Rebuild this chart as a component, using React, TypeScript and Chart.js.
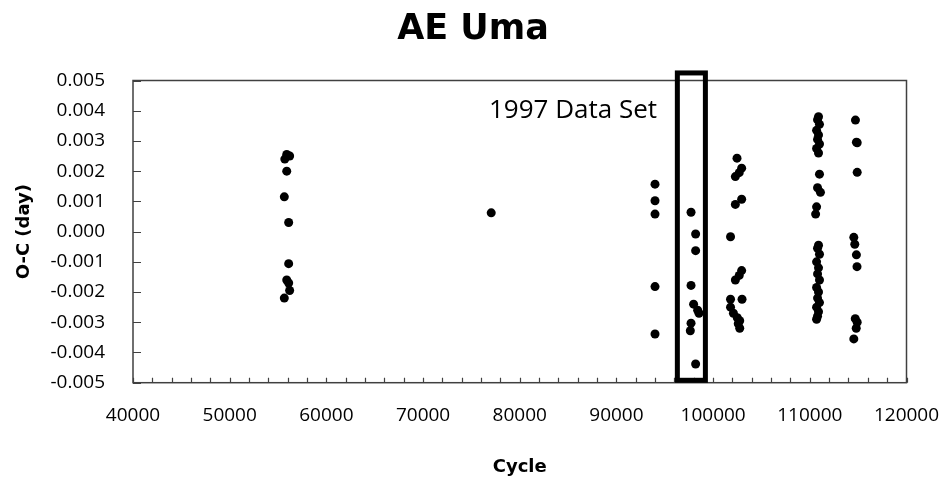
import { useEffect, useRef } from "react";
import { Chart, registerables } from "chart.js";

Chart.register(...registerables);

// Chart text
const TITLE = "AE Uma";
const X_TITLE = "Cycle";
const Y_TITLE = "O-C (day)";
const HIGHLIGHT_LABEL = "1997 Data Set";

// Axis ranges
const X_MIN = 40000;
const X_MAX = 120000;
const X_MINOR_STEP = 2000;
const X_LABEL_STEP = 10000;
const Y_MIN = -0.005;
const Y_MAX = 0.005;
const Y_STEP = 0.001;

// Times of maximum, grouped by observing season: cycle number and O-C (day)
const cyclesA = [55900, 56200, 55700, 55900, 55650, 56100, 56100, 55900, 56100, 56200, 55650];
const ocA = [0.00255, 0.0025, 0.0024, 0.002, 0.00115, 0.0003, -0.00106, -0.0016, -0.0017, -0.00195, -0.0022];

const cyclesB = [77050];
const ocB = [0.00062];

const cyclesC = [93990, 93990, 93990, 93990, 93990];
const ocC = [0.00157, 0.00102, 0.00058, -0.00182, -0.00339];

const cyclesD = [97715, 98190, 98190, 97715, 97980, 98540, 98400, 97715, 97640, 98190];
const ocD = [0.00064, -0.00008, -0.00063, -0.00178, -0.0024, -0.0027, -0.0026, -0.00303, -0.00328, -0.00438];

const cyclesE = [
  102470, 102950, 102700, 102300, 102950, 102300, 101800, 102950, 102700, 102300,
  101800, 102990, 101800, 102100, 102500, 102750, 102600, 102750,
];
const ocE = [
  0.00243, 0.0021, 0.00195, 0.00182, 0.00107, 0.0009, -0.00017, -0.00129, -0.00145, -0.0016,
  -0.00224, -0.00224, -0.0025, -0.0027, -0.00285, -0.00295, -0.00305, -0.0032,
];

const cyclesF = [
  110900, 110800, 111000, 110700, 110900, 110800, 111000, 110700, 110900,
  111000, 110800, 111100, 110700, 110600,
  110900, 110800, 111000, 110700, 110900, 110800, 111000, 110700, 110900, 110800,
  111000, 110700, 110900, 110800, 110700,
];
const ocF = [
  0.0038, 0.0037, 0.00355, 0.00335, 0.0032, 0.00305, 0.0029, 0.00275, 0.0026,
  0.0019, 0.00145, 0.0013, 0.00082, 0.00058,
  -0.00045, -0.00055, -0.00075, -0.001, -0.0012, -0.0014, -0.0016, -0.00185, -0.002, -0.0022,
  -0.00235, -0.0025, -0.00265, -0.0028, -0.0029,
];

const cyclesG = [114720, 114820, 114900, 114900, 114550, 114650, 114820, 114880, 114700, 114900, 114800, 114550];
const ocG = [0.00369, 0.00296, 0.00294, 0.00196, -0.00019, -0.00042, -0.00077, -0.00116, -0.00288, -0.003, -0.0032, -0.00355];

// Box drawn round the 1997 season, in axis units
const highlightCycles = [96300, 99200];
const highlightOC = [-0.00492, 0.00525];
const highlightLabelAt = { cycle: 94200, oc: 0.0040 };

const seasons = [
  [cyclesA, ocA],
  [cyclesB, ocB],
  [cyclesC, ocC],
  [cyclesD, ocD],
  [cyclesE, ocE],
  [cyclesF, ocF],
  [cyclesG, ocG],
];

const FRAME = "#404040";
const TICK_FONT = { family: "'Open Sans', sans-serif", size: 19 };
const TITLE_FONT = { family: "'DejaVu Sans', sans-serif", weight: "bold" as const };

const frameAndNotes = {
  id: "frameAndNotes",
  afterDraw(chart: any) {
    const { ctx, chartArea, scales } = chart;
    const { left, right, top, bottom } = chartArea;
    const xs = scales.x;
    const ys = scales.y;
    ctx.save();

    // plot frame
    ctx.strokeStyle = FRAME;
    ctx.lineWidth = 1.5;
    ctx.strokeRect(left, top, right - left, bottom - top);

    // inward tick marks
    ctx.lineWidth = 1.2;
    ctx.beginPath();
    for (const t of ys.ticks) {
      const y = Math.round(ys.getPixelForValue(t.value)) + 0.5;
      ctx.moveTo(left, y);
      ctx.lineTo(left + 8, y);
    }
    for (const t of xs.ticks) {
      const x = Math.round(xs.getPixelForValue(t.value)) + 0.5;
      ctx.moveTo(x, bottom);
      ctx.lineTo(x, bottom - 5);
    }
    ctx.stroke();

    // highlight box
    const x0 = xs.getPixelForValue(highlightCycles[0]);
    const x1 = xs.getPixelForValue(highlightCycles[1]);
    const y0 = ys.getPixelForValue(highlightOC[1]);
    const y1 = ys.getPixelForValue(highlightOC[0]);
    ctx.strokeStyle = "#000";
    ctx.lineWidth = 5;
    ctx.lineJoin = "miter";
    ctx.strokeRect(x0, y0, x1 - x0, y1 - y0);

    // its label
    ctx.fillStyle = "#000";
    ctx.font = "26px 'Open Sans', sans-serif";
    ctx.textAlign = "right";
    ctx.textBaseline = "middle";
    ctx.fillText(
      HIGHLIGHT_LABEL,
      xs.getPixelForValue(highlightLabelAt.cycle),
      ys.getPixelForValue(highlightLabelAt.oc)
    );
    ctx.restore();
  },
};

export default function App() {
  const ref = useRef<HTMLCanvasElement>(null);

  useEffect(() => {
    const canvas = ref.current;
    if (!canvas) return;
    const points = seasons.flatMap(([cs, vs]) => cs.map((c, i) => ({ x: c, y: vs[i] })));

    const chart = new Chart(canvas, {
      type: "scatter",
      data: {
        datasets: [
          {
            data: points,
            backgroundColor: "#000",
            borderWidth: 0,
            pointRadius: 4.5,
            pointHoverRadius: 4.5,
          },
        ],
      },
      options: {
        responsive: false,
        animation: false,
        devicePixelRatio: 1,
        layout: { padding: 0 },
        plugins: {
          legend: { display: false },
          tooltip: { enabled: false },
          title: {
            display: true,
            text: TITLE,
            color: "#000",
            font: { ...TITLE_FONT, size: 35 },
            padding: { top: 9, bottom: 29.5 },
          },
        },
        scales: {
          x: {
            type: "linear",
            min: X_MIN,
            max: X_MAX,
            afterFit: (s: any) => {
              s.height = 102.3;
              s.paddingLeft = 0;
              s.paddingRight = 39.5;
            },
            grid: { display: false },
            border: { display: false },
            ticks: {
              stepSize: X_MINOR_STEP,
              autoSkip: false,
              maxRotation: 0,
              minRotation: 0,
              padding: 13,
              color: "#000",
              font: TICK_FONT,
              callback: (v: any) => (Number(v) % X_LABEL_STEP === 0 ? String(v) : ""),
            },
            title: {
              display: true,
              text: X_TITLE,
              color: "#000",
              font: { ...TITLE_FONT, size: 18 },
              padding: { top: 0, bottom: 7 },
            },
          },
          y: {
            type: "linear",
            min: Y_MIN,
            max: Y_MAX,
            afterFit: (s: any) => {
              s.width = 133;
            },
            grid: { display: false },
            border: { display: false },
            ticks: {
              stepSize: Y_STEP,
              padding: 20,
              color: "#000",
              font: TICK_FONT,
              callback: (v: any) => {
                const n = Number(v);
                return Math.abs(n) < 1e-9 ? "0.000" : n.toFixed(3);
              },
            },
            title: {
              display: true,
              text: Y_TITLE,
              color: "#000",
              font: { ...TITLE_FONT, size: 18 },
              padding: { top: 14, bottom: 0 },
            },
          },
        },
      },
      plugins: [frameAndNotes],
    });

    return () => chart.destroy();
  }, []);

  return (
    <canvas
      ref={ref}
      width={946}
      height={485}
      style={{ position: "absolute", left: 0, top: 0, display: "block" }}
    />
  );
}
